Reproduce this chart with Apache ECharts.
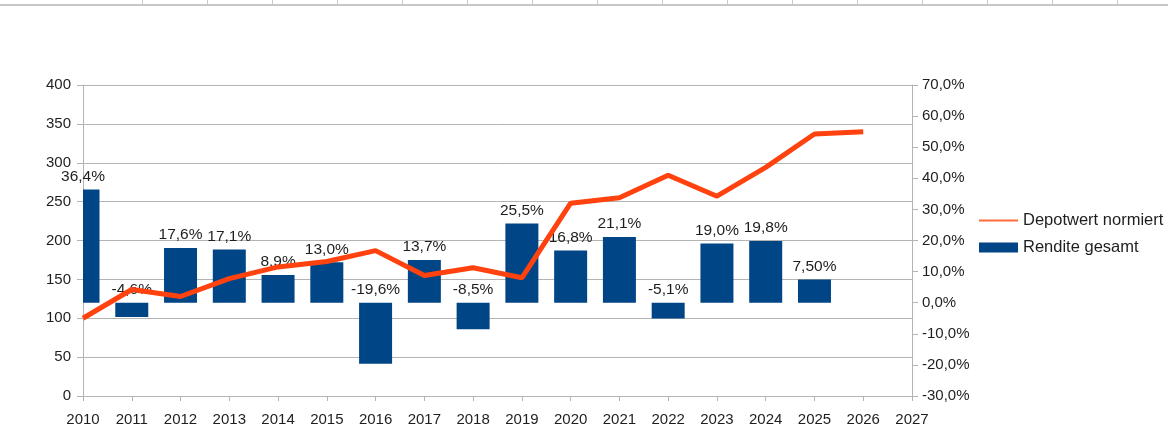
<!DOCTYPE html>
<html>
<head>
<meta charset="utf-8">
<script src="https://cdn.jsdelivr.net/npm/echarts@6/dist/echarts.min.js"></script>
<style>
html,body{margin:0;padding:0;background:#fff;}
#chart{width:1168px;height:440px;}
</style>
</head>
<body>
<div id="chart"></div>
<script>
const years = ['2010','2011','2012','2013','2014','2015','2016','2017','2018','2019','2020','2021','2022','2023','2024','2025','2026','2027'];
const depotwert = [100,137,128,151,166,173,187,155,165,152,248,255,284,257,294,337,340];
const rendite = [36.4,-4.6,17.6,17.1,8.9,13.0,-19.6,13.7,-8.5,25.5,16.8,21.1,-5.1,19.0,19.8,7.5];
const renditeLabels = ['36,4%','-4,6%','17,6%','17,1%','8,9%','13,0%','-19,6%','13,7%','-8,5%','25,5%','16,8%','21,1%','-5,1%','19,0%','19,8%','7,50%'];
const seriesNames = ['Depotwert normiert','Rendite gesamt'];

const font = 'Liberation Sans, Arial, sans-serif';
const txt = '#1e1e1e';
const gridGray = '#b3b3b3';
const barColor = '#004586';
const lineColor = '#ff420e';
const barW = 33;

// spreadsheet header decoration
const header = [{type:'rect', shape:{x:0,y:4,width:1168,height:2}, style:{fill:'#c8c8c8'}, silent:true}];
for (let i = 0; i < 16; i++) {
  const x = Math.round(141.6 + 65 * i) + 0.5;
  header.push({type:'line', shape:{x1:x,y1:0,x2:x,y2:4}, style:{stroke:'#c8c8c8', lineWidth:1}, silent:true});
}

function renderBar(params, api) {
  const idx = api.value(0);
  const v = api.value(1);
  const base = api.coord([idx, 0]);
  const end = api.coord([idx, v]);
  const cs = params.coordSys;
  const topY = Math.min(base[1], end[1]);
  const rect = echarts.graphic.clipRectByRect(
    {x: base[0] - barW / 2, y: topY, width: barW, height: Math.abs(end[1] - base[1])},
    {x: cs.x, y: cs.y, width: cs.width, height: cs.height}
  );
  const children = [];
  if (rect) children.push({type:'rect', shape: rect, style: api.style({fill: barColor})});
  children.push({
    type:'text', z2: 10,
    style:{
      text: renditeLabels[params.dataIndex], x: base[0], y: topY - 5,
      align:'center', verticalAlign:'bottom', textAlign:'center', textVerticalAlign:'bottom',
      fill: txt, font: '15.5px ' + font
    }
  });
  return {type:'group', children};
}

const chart = echarts.init(document.getElementById('chart'));
chart.setOption({
  animation:false,
  textStyle:{fontFamily:font},
  graphic: header,
  grid:{left:83, right:256, top:85, bottom:44, containLabel:false},
  legend:{
    orient:'vertical', left:979, top:212, padding:0,
    itemWidth:39, itemHeight:10, itemGap:10,
    textStyle:{fontSize:16.5, color:txt, fontFamily:font, lineHeight:16},
    data:[
      {name:seriesNames[0], icon:'path://M0,0L40,0L40,2L0,2Z', itemStyle:{color:'#ff6a3d'}},
      {name:seriesNames[1], icon:'rect', itemStyle:{color:barColor}}
    ]
  },
  xAxis:{
    type:'category', data:years, boundaryGap:false,
    axisLine:{lineStyle:{color:gridGray}},
    axisTick:{alignWithLabel:true, length:5, lineStyle:{color:gridGray}},
    axisLabel:{color:txt, fontSize:15, margin:16, interval:0, fontFamily:font},
    splitLine:{show:false}
  },
  yAxis:[
    {
      type:'value', min:0, max:400, interval:50, position:'left',
      axisLine:{show:true, lineStyle:{color:gridGray}},
      axisTick:{show:true, length:6, lineStyle:{color:gridGray}},
      axisLabel:{color:txt, fontSize:15, margin:12, fontFamily:font, padding:[3,0,0,0]},
      splitLine:{show:true, lineStyle:{color:gridGray}}
    },
    {
      type:'value', min:-30, max:70, interval:10, position:'right',
      axisLine:{show:true, lineStyle:{color:gridGray}},
      axisTick:{show:true, length:6, lineStyle:{color:gridGray}},
      axisLabel:{color:txt, fontSize:15, margin:10, fontFamily:font, padding:[3,0,0,0],
        formatter:v => v.toFixed(1).replace('.', ',') + '%'},
      splitLine:{show:false}
    }
  ],
  series:[
    {
      name:seriesNames[0], type:'line', data:depotwert, yAxisIndex:0,
      symbol:'none', lineStyle:{width:5, color:lineColor}, itemStyle:{color:lineColor}
    },
    {
      name:seriesNames[1], type:'custom', yAxisIndex:1, clip:false,
      data: rendite.map((v, i) => [i, v]),
      encode:{x:0, y:1},
      itemStyle:{color:barColor},
      renderItem: renderBar
    }
  ]
});
</script>
</body>
</html>
